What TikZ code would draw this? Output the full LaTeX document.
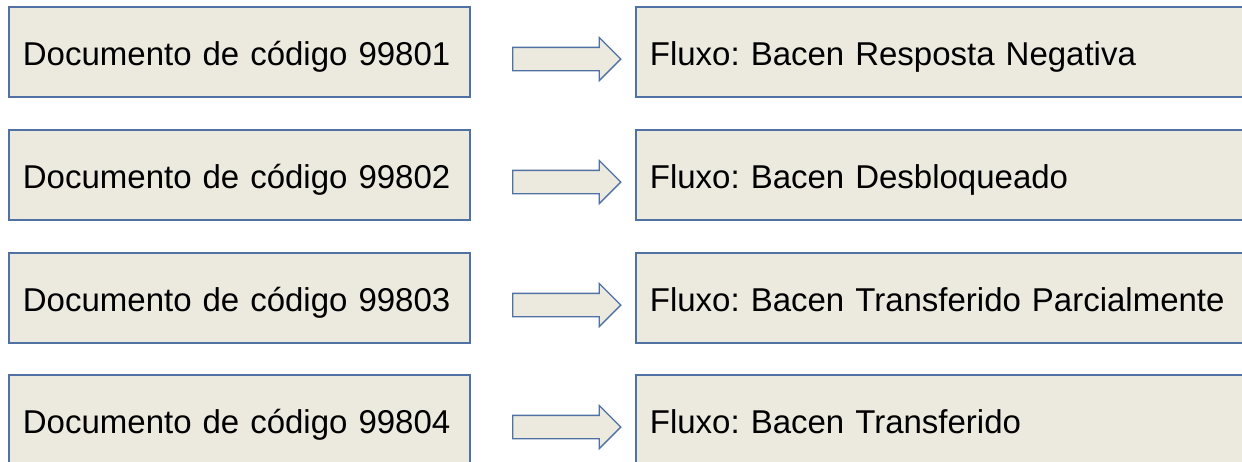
\documentclass[tikz,border=0pt]{standalone}
\usepackage{fontspec}
\setmainfont{Liberation Sans}
\usetikzlibrary{shapes.arrows}
\frenchspacing

\definecolor{boxfill}{HTML}{ECE9DF}
\definecolor{boxline}{HTML}{4F72A3}

\tikzset{
  docbox/.style={draw=boxline, fill=boxfill, line width=1.8pt, rectangle,
    minimum height=90pt, text width=433pt, inner xsep=14pt, align=left,
    text height=27pt, text depth=0pt,
    anchor=west, font=\fontsize{33}{40}\selectfont},
  flowbox/.style={docbox, text width=599pt},
  blockarrow/.style={single arrow, draw=boxline, fill=boxfill, line width=1.3pt,
    minimum height=108pt, single arrow head extend=10pt,
    single arrow head indent=0pt, inner xsep=0pt, inner ysep=11pt}
}

\begin{document}
\begin{tikzpicture}[x=1pt,y=-1pt]
\useasboundingbox (0,0) rectangle (1242,461);
\clip (0,0) rectangle (1242,461);

\node[docbox] (d1) at (8,52) {Documento de código 99801};
\node[docbox] (d2) at (8,175) {Documento de código 99802};
\node[docbox] (d3) at (8,298) {Documento de código 99803};
\node[docbox] (d4) at (8,420) {Documento de código 99804};

\node[flowbox] (f1) at (635,52) {Fluxo: Bacen Resposta Negativa};
\node[flowbox] (f2) at (635,175) {Fluxo: Bacen Desbloqueado};
\node[flowbox] (f3) at (635,298) {Fluxo: Bacen Transferido Parcialmente};
\node[flowbox] (f4) at (635,420) {Fluxo: Bacen Transferido};

\node[blockarrow] (a1) at (561,59) {};
\node[blockarrow] (a2) at (561,182) {};
\node[blockarrow] (a3) at (561,305) {};
\node[blockarrow] (a4) at (561,427) {};
\end{tikzpicture}
\end{document}
